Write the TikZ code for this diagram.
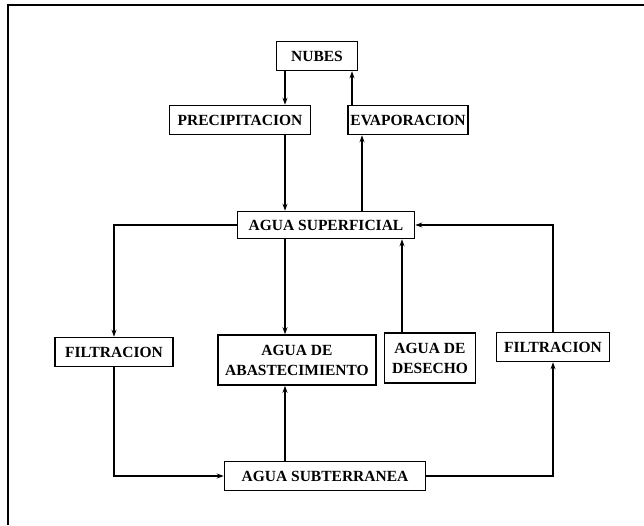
\documentclass[tikz,border=0pt]{standalone}
\usepackage{fontspec}
\setmainfont{Liberation Serif}
\usetikzlibrary{arrows.meta}

\tikzset{
  box/.style={draw, line width=1.6pt, font=\fontsize{15.5}{20}\selectfont\bfseries, inner sep=0pt, align=center, minimum height=29pt},
  flow/.style={line width=1.5pt, -{Stealth[length=7pt, width=5pt]}},
}

\begin{document}
\begin{tikzpicture}[x=1pt, y=-1pt]
  \useasboundingbox (0,0) rectangle (644,525);

  % Frame
  \draw[line width=2.4pt] (8,525) -- (8,5) -- (644,5);

  % Atmosphere
  \node[box, minimum width=81pt] (nubes) at (317, 56) {NUBES};
  \node[box, minimum width=141pt] (precip) at (240, 120) {PRECIPITACION};
  \node[box, minimum width=120pt] (evap) at (408, 120) {EVAPORACION};

  % Surface
  \node[box, minimum width=177pt, minimum height=27pt] (sup) at (326, 225) {AGUA SUPERFICIAL};
  \node[box, minimum width=118pt] (filtL) at (114, 352) {FILTRACION};
  \node[box, minimum width=158pt, minimum height=50pt] (abast) at (297, 360) {AGUA DE\\ABASTECIMIENTO};
  \node[box, minimum width=91pt, minimum height=50pt] (desecho) at (430, 358) {AGUA DE\\DESECHO};
  \node[box, minimum width=113pt] (filtR) at (553, 347) {FILTRACION};

  % Ground
  \node[box, minimum width=201pt] (sub) at (325, 476) {AGUA SUBTERRANEA};

  % Columns of the vertical arrows
  \coordinate (cl) at (285, 0);
  \coordinate (cn) at (352, 0);
  \coordinate (ce) at (362, 0);
  \coordinate (cd) at (402, 0);

  \draw[flow] (nubes.south -| cl) -- (precip.north -| cl);
  \draw[flow] (precip.south -| cl) -- (sup.north -| cl);
  \draw[flow] (evap.north -| cn) -- (nubes.south -| cn);
  \draw[flow] (sup.north -| ce) -- (evap.south -| ce);

  \draw[flow] (sup.south -| cl) -- (abast.north -| cl);
  \draw[flow] (sub.north -| cl) -- (abast.south -| cl);
  \draw[flow] (desecho.north -| cd) -- (sup.south -| cd);

  % Loops through filtration
  \draw[flow] (sup.west) -| (filtL.north);
  \draw[flow] (filtL.south) |- (sub.west);
  \draw[flow] (sub.east) -| (filtR.south);
  \draw[flow] (filtR.north) |- (sup.east);
\end{tikzpicture}
\end{document}
